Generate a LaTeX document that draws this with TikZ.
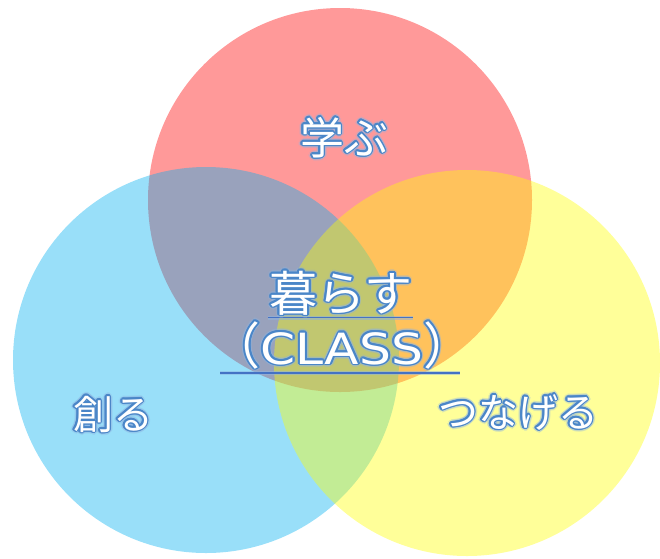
\documentclass[tikz,border=0pt]{standalone}
\usepackage{fontspec}
\usepackage{graphicx}
\newfontfamily\jp{Noto Sans CJK JP}
\newfontfamily\lat{DejaVu Sans}
\usetikzlibrary{calc}
\definecolor{cred}{HTML}{FF0000}
\definecolor{cblue}{HTML}{00B0F0}
\definecolor{cyellow}{HTML}{FFFF00}
\definecolor{outblue}{HTML}{4A86C8}
\definecolor{glowblue}{HTML}{8DB3E2}
\definecolor{lineblue}{HTML}{4472C4}
\tikzset{
  venn/.style={opacity=0.4},
  lbl/.style={anchor=base,inner sep=0pt,font=\jp\fontsize{#1}{#1}\selectfont},
}
\newcommand\glowlabel[4]{%
  \foreach \a in {0,30,...,330}{\node[lbl=#3,text=glowblue,opacity=0.3] at ($(#2)+(\a:3.2)$) {#4};}
  \foreach \a in {0,30,...,330}{\node[lbl=#3,text=outblue] at ($(#2)+(\a:1.9)$) {#4};}
  \node[lbl=#3,text=white] (#1) at (#2) {#4};
}
\begin{document}
\begin{tikzpicture}[x=1pt,y=-1pt]
\useasboundingbox (0,0) rectangle (660,558);
\fill[cred,venn] (340,200) circle[radius=192];
\fill[cblue,venn] (206,360) circle[radius=193];
\fill[cyellow,venn] (467,363) circle[radius=193];
\coordinate (pmanabu) at (344,154);
\coordinate (ptsukuru) at (113,429);
\coordinate (ptsunageru) at (518,427);
\coordinate (pkurasu) at (341,311);
\coordinate (pclass) at (342,364);
\glowlabel{manabu}{pmanabu}{44}{学ぶ}
\glowlabel{tsukuru}{ptsukuru}{40}{創る}
\glowlabel{tsunageru}{ptsunageru}{40}{つなげる}
% underlines
\draw[glowblue,line width=4pt,opacity=0.5] (268,317.5) -- (413,317.5);
\draw[glowblue,line width=4pt,opacity=0.5] (220,373) -- (460,373);
\draw[lineblue,line width=1.5pt] (268,317.5) -- (413,317.5);
\draw[lineblue,line width=1.5pt] (220,373) -- (460,373);
\glowlabel{kurasu}{pkurasu}{48}{暮らす}
\glowlabel{class}{pclass}{50}{\makebox[256pt]{（\hfill{\lat\fontsize{43}{43}\selectfont\scalebox{1.17}[1]{CLASS}}\hfill）}}
\end{tikzpicture}
\end{document}
